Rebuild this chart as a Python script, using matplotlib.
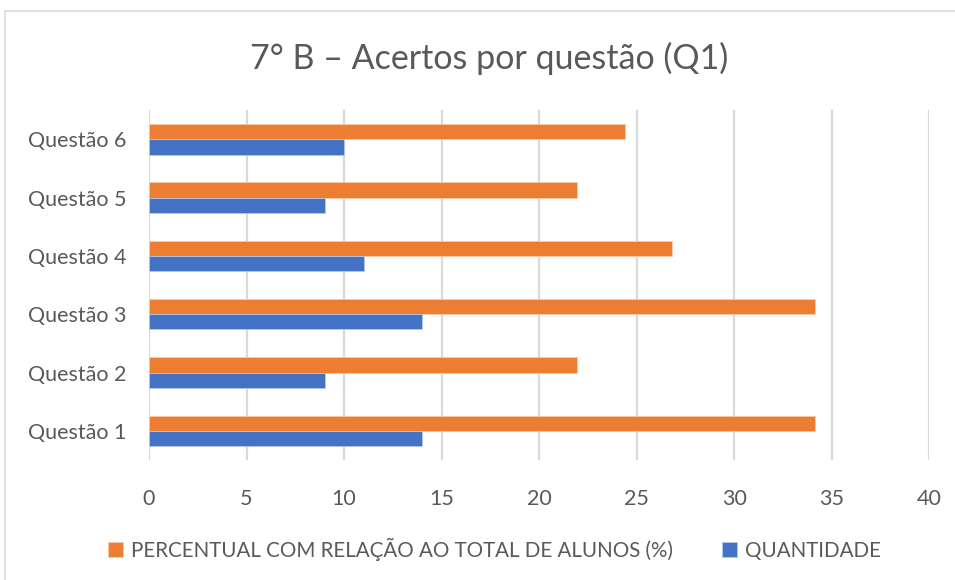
import numpy as np
import matplotlib.pyplot as plt
from matplotlib.patches import Rectangle

plt.rcParams['font.family'] = ['Lato', 'DejaVu Sans']

questoes = ['Questão 1', 'Questão 2', 'Questão 3', 'Questão 4', 'Questão 5', 'Questão 6']
quantidade = [14, 9, 14, 11, 9, 10]
percentual = [34.15, 21.95, 34.15, 26.83, 21.95, 24.39]

laranja = '#ED7D31'
azul = '#4472C4'
cinza = '#595959'

fig = plt.figure(figsize=(9.55, 5.8), dpi=100)
ax = fig.add_axes([0.156, 0.207, 0.817, 0.603])

y = np.arange(len(questoes))
h = 0.26
ax.barh(y + h / 2, percentual, height=h, color=laranja, edgecolor='#F8CBAD', linewidth=0.6,
        label='PERCENTUAL COM RELAÇÃO AO TOTAL DE ALUNOS (%)', zorder=3)
ax.barh(y - h / 2, quantidade, height=h, color=azul, edgecolor='#B4C7E7', linewidth=0.6,
        label='QUANTIDADE', zorder=3)

ax.set_xlim(0, 40)
ax.set_ylim(-0.5, 5.5)
ax.set_xticks(range(0, 41, 5))
ax.set_yticks(y)
ax.set_yticklabels(questoes)
ax.tick_params(length=0, colors=cinza, labelsize=15.5)
ax.tick_params(axis='x', pad=21)
ax.tick_params(axis='y', pad=16)
ax.grid(axis='x', color='#D9D9D9', linewidth=1.6, zorder=0)
for s in ax.spines.values():
    s.set_visible(False)

fig.text(0.512, 0.9, '7° B – Acertos por questão (Q1)', ha='center', va='center',
         fontsize=24.5, color=cinza)

leg = ax.legend(loc='center', bbox_to_anchor=(0.518, 0.053), bbox_transform=fig.transFigure,
                ncol=2, frameon=False, fontsize=14.8, handlelength=0.7, handleheight=0.7,
                handletextpad=0.4, columnspacing=2.4)
for t in leg.get_texts():
    t.set_color(cinza)

fig.patches.append(Rectangle((5 / 955, -0.01), 1.0, 1 - 11 / 580 + 0.01, transform=fig.transFigure,
                             fill=False, edgecolor='#D9D9D9', linewidth=1.2))

plt.savefig('out.png', dpi=100)
